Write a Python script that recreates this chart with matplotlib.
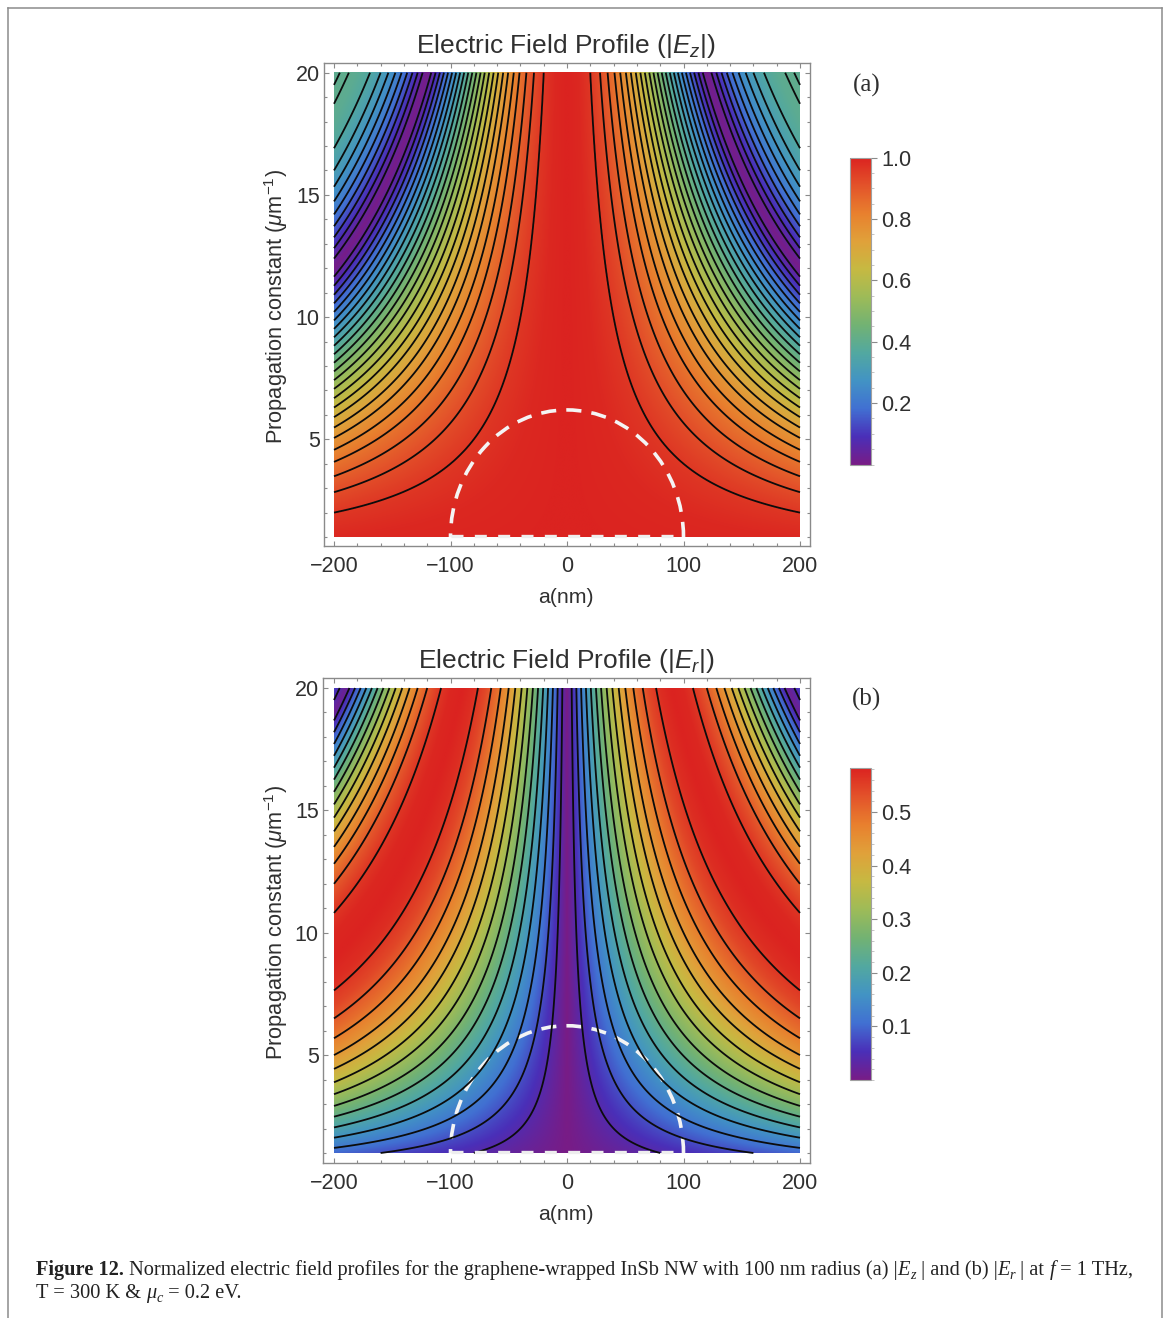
import numpy as np
import matplotlib
matplotlib.use('Agg')
import matplotlib.pyplot as plt
from matplotlib.colors import LinearSegmentedColormap
from matplotlib.lines import Line2D
from matplotlib.patches import Arc
from matplotlib.ticker import MultipleLocator

plt.rcParams['font.family'] = ['Liberation Sans', 'DejaVu Sans']
plt.rcParams['mathtext.fontset'] = 'custom'
plt.rcParams['mathtext.rm'] = 'Liberation Sans'
plt.rcParams['mathtext.it'] = 'Liberation Sans:italic'
plt.rcParams['mathtext.bf'] = 'Liberation Sans:bold'

W, H = 1171, 1318

# field values read along the right edge (a = 200 nm), one per unit of beta.
# every contour in the picture is a curve of constant a*beta, so the rest of
# each panel is looked up from these two lists
beta_edge = [0, 1, 2, 3, 4, 5, 6, 7, 8, 9, 10, 11, 12, 13, 14, 15, 16, 17, 18, 19, 20]
ez_edge = [1.0, 0.990, 0.960, 0.912, 0.846, 0.765, 0.671, 0.567, 0.455, 0.340, 0.224,
           0.110, 0.003, 0.097, 0.185, 0.260, 0.320, 0.364, 0.392, 0.403, 0.397]
er_edge = [0.0, 0.100, 0.196, 0.287, 0.369, 0.440, 0.498, 0.542, 0.570, 0.582, 0.577,
           0.556, 0.520, 0.471, 0.410, 0.339, 0.261, 0.179, 0.096, 0.013, 0.066]

a_limits = [-200, 200]
beta_limits = [1, 20]
contour_step = 0.04
circle_radius = 100
circle_top = 6.2

x_ticks = [-200, -100, 0, 100, 200]
y_ticks = [5, 10, 15, 20]
bar_ticks_a = [0.2, 0.4, 0.6, 0.8, 1.0]
bar_ticks_b = [0.1, 0.2, 0.3, 0.4, 0.5]

rainbow = ['#781C86', '#4A2FB8', '#4170D2', '#4293C4', '#52A8A0', '#72B273', '#9DBB58',
           '#C6B942', '#E0A13A', '#E8802E', '#E3532A', '#DB2320']
cmap = LinearSegmentedColormap.from_list('rainbow_m', rainbow, N=512)

caption_1 = [('Figure 12.', 'normal', 'bold', 1, 0),
             (' Normalized electric field profiles for the graphene-wrapped InSb NW with 100 nm radius (a) |', 'normal', 'normal', 1, 0),
             ('E', 'italic', 'normal', 1, 0), ('z', 'italic', 'normal', 0.7, 4),
             (' | and (b) |', 'normal', 'normal', 1, 0),
             ('E', 'italic', 'normal', 1, 0), ('r', 'italic', 'normal', 0.7, 4),
             (' | at ', 'normal', 'normal', 1, 0), ('f', 'italic', 'normal', 1, 0),
             (' = 1 THz,', 'normal', 'normal', 1, 0)]
caption_2 = [('T = 300 K & ', 'normal', 'normal', 1, 0), ('\u03bc', 'italic', 'normal', 1, 0),
             ('c', 'italic', 'normal', 0.7, 4), (' = 0.2 eV.', 'normal', 'normal', 1, 0)]

GREY = '#8a8a8a'
INK = '#303030'

fig = plt.figure(figsize=(W / 100, H / 100), dpi=100)


def box(x0, y0, x1, y1):
    return [x0 / W, 1 - y1 / H, (x1 - x0) / W, (y1 - y0) / H]


def panel(edge, vmax, levels, frame, data_top, data_bottom, bar_box, bar_ticks, bar_minor,
          title, tag, tag_y, title_y, bar_lab):
    ax = fig.add_axes(box(*frame))
    per_nm = 233 / 200
    per_beta = (data_bottom - data_top) / (beta_limits[1] - beta_limits[0])

    a = np.linspace(a_limits[0], a_limits[1], 801)
    beta = np.linspace(beta_limits[0], beta_limits[1], 801)
    aa, bb = np.meshgrid(a, beta)
    z = np.interp(np.abs(aa) * bb / 200, beta_edge, edge)

    im = ax.imshow(z, origin='lower', extent=a_limits + beta_limits, cmap=cmap, vmin=0, vmax=vmax,
                   aspect='auto', interpolation='bilinear')
    ax.contour(aa, bb, z, levels=levels, colors='#0c0c0c', linewidths=1.3)
    ax.set_xlim((frame[0] - 567) / per_nm, (frame[2] - 567) / per_nm)
    ax.set_ylim(1 - (frame[3] - data_bottom) / per_beta, 20 + (data_top - frame[1]) / per_beta)

    ax.add_patch(Arc((0, beta_limits[0]), 2 * circle_radius, 2 * (circle_top - beta_limits[0]),
                     theta1=0, theta2=180, color='#f4f4f4', lw=2.6, ls=(0, (4.2, 2.8))))
    ax.plot([-circle_radius, circle_radius], [beta_limits[0] + 0.05, beta_limits[0] + 0.05], color='#eeeeee',
            lw=2.4, ls=(0, (3.6, 3.4)), solid_capstyle='butt')

    ax.set_xticks(x_ticks)
    ax.set_yticks(y_ticks)
    ax.xaxis.set_minor_locator(MultipleLocator(20))
    ax.yaxis.set_minor_locator(MultipleLocator(1))
    ax.tick_params(which='both', direction='in', top=True, right=True, color=GREY, width=0.8)
    ax.tick_params(which='major', length=3.8, labelsize=15.5, labelcolor=INK)
    ax.tick_params(which='minor', length=2.2)
    ax.tick_params(axis='x', which='major', pad=7)
    ax.tick_params(axis='y', which='major', pad=3)
    ax.set_xticklabels(['\u2212200', '\u2212100', '0', '100', '200'])
    for s in ax.spines.values():
        s.set_color(GREY)
        s.set_linewidth(1.0)

    fig.text(566 / W, 1 - (frame[3] + 51) / H, 'a(nm)', fontsize=15.3, color=INK, ha='center', va='center')
    fig.text(276 / W, 1 - ((frame[1] + frame[3]) / 2 + 2) / H, 'Propagation constant ($\\mu$m$^{-1}$)',
             fontsize=15.7, color=INK, rotation=90, ha='center', va='center')
    fig.text(566 / W, 1 - title_y / H, title, fontsize=19, color=INK, ha='center', va='baseline')
    fig.text(867 / W, 1 - tag_y / H, tag, fontsize=18, color=INK, family='Liberation Serif',
             ha='center', va='center')

    cax = fig.add_axes(box(*bar_box))
    cb = fig.colorbar(im, cax=cax)
    cb.set_ticks(bar_ticks)
    cb.set_ticklabels(bar_lab)
    cax.yaxis.set_minor_locator(MultipleLocator(bar_minor))
    cax.tick_params(which='major', length=4, color=GREY, width=0.8, labelsize=15.7, labelcolor=INK, pad=3.5)
    cax.tick_params(which='minor', length=2.5, color='#bbbbbb', width=0.6)
    cb.outline.set_edgecolor('#a0a0a0')
    cb.outline.set_linewidth(0.8)


panel(ez_edge, 1.0, np.arange(0.04, 0.99, contour_step), (324, 63, 810, 546), 72.7, 537,
      (850, 157.5, 871, 464.5), bar_ticks_a, 0.05,
      'Electric Field Profile (|$E_z$|)', '(a)', 85, 53,
      ['0.2', '0.4', '0.6', '0.8', '1.0'])
panel(er_edge, 0.582, np.arange(0.04, 0.57, contour_step), (323, 678, 810, 1163), 688, 1153,
      (850, 768, 871, 1080), bar_ticks_b, 0.02,
      'Electric Field Profile (|$E_r$|)', '(b)', 699, 668,
      ['0.1', '0.2', '0.3', '0.4', '0.5'])

# page border
for xs, ys in [((8, 8), (8, H)), ((8, 1162), (8, 8)), ((1162, 1162), (8, H))]:
    fig.add_artist(Line2D([x / W for x in xs], [1 - y / H for y in ys], color='#8c8c8c', lw=1.1))

# caption, run by run
fig.canvas.draw()
rend = fig.canvas.get_renderer()
CAP = 14.65


def write_line(runs, x, y):
    for s, style, weight, scale, dy in runs:
        kw = dict(family='Liberation Serif', style=style, weight=weight, fontsize=CAP * scale)
        fig.text(x / W, 1 - (y + dy) / H, s, color='#222222', va='baseline', ha='left', **kw)
        probe = fig.text(0, 0, '|' + s + '|', **kw)
        probe2 = fig.text(0, 0, '||', **kw)
        x += probe.get_window_extent(rend).width - probe2.get_window_extent(rend).width
        probe.remove()
        probe2.remove()
    return x


print(write_line(caption_1, 36, 1275))
write_line(caption_2, 36, 1298)

fig.savefig('out.png', dpi=100, facecolor='white')
